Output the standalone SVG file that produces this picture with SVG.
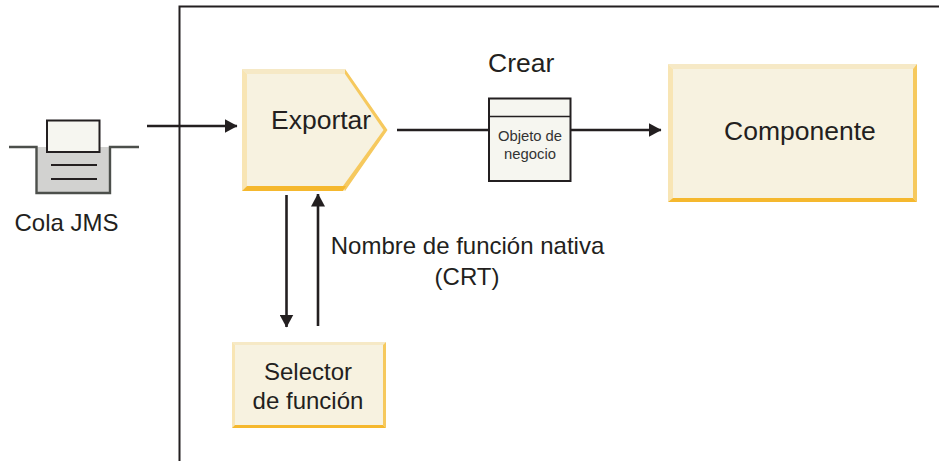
<svg xmlns="http://www.w3.org/2000/svg" width="939" height="461" viewBox="0 0 939 461">
<style>
text{font-family:"Liberation Sans",Arial,sans-serif;fill:#231f20}
.l{font-size:24px}
.b{font-size:26.500px}
.s{font-size:14.800px;fill:#333}
.c{stroke:#231f20;stroke-width:2.600;fill:none}
.fill{fill:#f7f2e0}
.top{fill:#f6e9c6}
.left{fill:#f8e5b4}
.right{fill:#f6c95e}
.bot{fill:#f5b82e}
</style>
<defs>
<marker id="a" markerUnits="userSpaceOnUse" markerWidth="13" markerHeight="14" refX="12.500" refY="7" orient="auto"><path d="M0 0L13 7L0 14Z" fill="#231f20"/></marker>
</defs>
<rect width="939" height="461" fill="#fff"/>
<path id="frame" d="M179.500 461V6.500H939" fill="none" stroke="#231f20" stroke-width="2"/>
<g id="cola-jms">
<rect x="37" y="147" width="73" height="46" fill="#d2d2d0"/>
<path d="M9 147H36.500V193H110V147H139" fill="none" stroke="#4c4f4b" stroke-width="2.400"/>
<rect x="47" y="120.500" width="52.500" height="31.500" fill="#f6f6f0" stroke="#231f20" stroke-width="2"/>
<path d="M51 165H97M51 179H97" stroke="#231f20" stroke-width="1.800"/>
<text class="l" x="66.500" y="231" text-anchor="middle">Cola JMS</text>
</g>
<g id="exportar">
<path class="fill" d="M242 69H345L387 130L345 191H242Z"/>
<path class="top" d="M242 69H345L345 74H247Z"/>
<path class="left" d="M242 69L247 74V186L242 191Z"/>
<path class="right" d="M345 69L387.500 130L345 191L343 186L383.500 130L345 74Z"/>
<path class="bot" d="M242 191L247 186H346L343 191Z"/>
<text class="b" x="271" y="129">Exportar</text>
</g>
<g id="objeto-de-negocio">
<rect x="489" y="98.500" width="81.500" height="82.500" fill="#f6f6f0" stroke="#231f20" stroke-width="2"/>
<path d="M489 116.500H570.500" stroke="#231f20" stroke-width="1.600"/>
<text class="s" x="530" y="141" text-anchor="middle">Objeto de</text>
<text class="s" x="530" y="159" text-anchor="middle">negocio</text>
</g>
<text id="crear" class="b" x="488" y="72">Crear</text>
<g id="componente">
<rect class="fill" x="668" y="64" width="249" height="138"/>
<path class="top" d="M668 64H917L913 69H673Z"/>
<path class="left" d="M668 64L673 69V198L668 202Z"/>
<path class="right" d="M917 64V202L913 198V69Z"/>
<path class="bot" d="M668 202L673 198H913L917 202Z"/>
<text class="b" x="724" y="140">Componente</text>
</g>
<g id="selector-de-funcion">
<rect class="fill" x="232" y="342" width="154" height="86"/>
<path class="top" d="M232 342H386L383 345H235Z"/>
<path class="left" d="M232 342L235 345V425L232 428Z"/>
<path class="right" d="M386 342V428L383 425V345Z"/>
<path class="bot" d="M232 428L235 425H383L386 428Z"/>
<text class="l" x="308" y="380" text-anchor="middle">Selector</text>
<text class="l" x="308" y="409" text-anchor="middle">de función</text>
</g>
<g id="connectors">
<path class="c" d="M147 126H237" marker-end="url(#a)"/>
<path class="c" d="M397 130H489"/>
<path class="c" d="M570 130H661" marker-end="url(#a)"/>
<path class="c" d="M286.500 195V327" marker-end="url(#a)"/>
<path class="c" d="M318 326V194" marker-end="url(#a)"/>
</g>
<text id="nombre-1" class="l" x="467.500" y="254" text-anchor="middle">Nombre de función nativa</text>
<text id="nombre-2" class="l" x="467" y="285" text-anchor="middle">(CRT)</text>
</svg>
